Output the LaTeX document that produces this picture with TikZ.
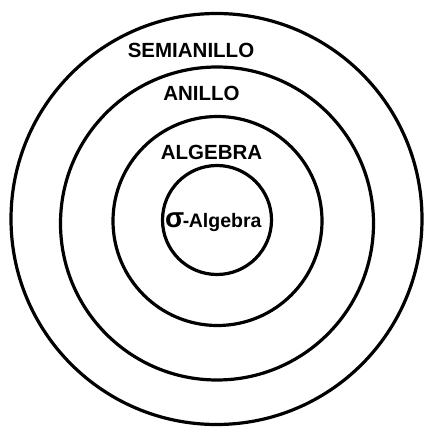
\documentclass[tikz,border=0pt]{standalone}
\usepackage{fontspec}
\setmainfont{Liberation Sans}
\begin{document}
\begin{tikzpicture}[x=1pt,y=-1pt,
  ring/.style={draw=black,line width=3.2pt},
  lab/.style={anchor=base,inner sep=0pt,font=\fontsize{20.5}{24}\selectfont\bfseries}]
\useasboundingbox[fill=white] (0,0) rectangle (423,428);
\draw[ring] (216.5,219) circle[radius=205.5];
\draw[ring] (217,223.5) circle[radius=156.5];
\draw[ring] (217.5,221) circle[radius=104.5];
\draw[ring] (217,220) circle[radius=54.5];
\node[lab] (semi) at (191,57) {SEMIANILLO};
\node[lab] (anillo) at (201.5,100) {ANILLO};
\node[lab] (alg) at (211.5,159) {ALGEBRA};
\node[lab,anchor=base west,font=\fontsize{19.5}{23}\selectfont\bfseries] (sig) at (165,227) {{\fontsize{28}{28}\selectfont σ}\kern-1.5pt-\kern-0.5ptAlgebra};
\end{tikzpicture}
\end{document}
